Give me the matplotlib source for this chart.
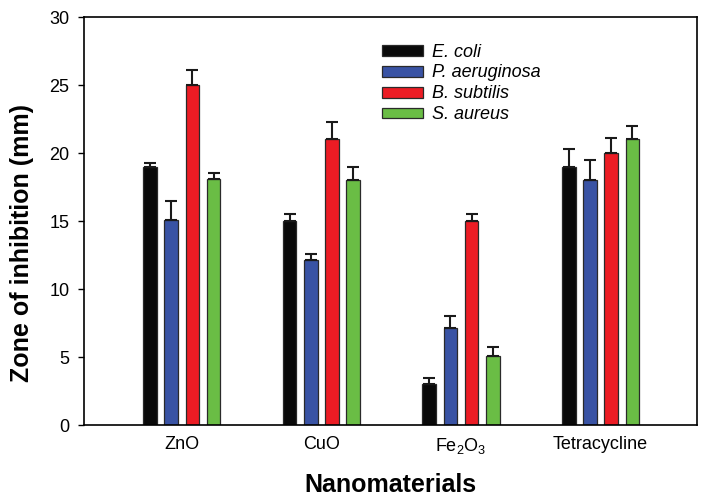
import numpy as np
import matplotlib
matplotlib.use("Agg")
import matplotlib.pyplot as plt

plt.rcParams['font.family'] = ['Liberation Sans', 'DejaVu Sans']
plt.rcParams['mathtext.fontset'] = 'custom'
plt.rcParams['mathtext.rm'] = 'Liberation Sans'
plt.rcParams['mathtext.it'] = 'Liberation Sans:italic'

materials = ['ZnO', 'CuO', 'Fe$_2$O$_3$', 'Tetracycline']
strains = ['E. coli', 'P. aeruginosa', 'B. subtilis', 'S. aureus']

# zone of inhibition (mm) per strain, one value per material
e_coli = [19.0, 15.0, 3.0, 19.0]
p_aeruginosa = [15.1, 12.1, 7.1, 18.0]
b_subtilis = [25.0, 21.0, 15.0, 20.0]
s_aureus = [18.1, 18.0, 5.1, 21.0]

# error bars (upper only)
e_coli_err = [0.3, 0.5, 0.45, 1.3]
p_aeruginosa_err = [1.4, 0.45, 0.9, 1.5]
b_subtilis_err = [1.1, 1.3, 0.5, 1.1]
s_aureus_err = [0.45, 1.0, 0.6, 1.0]

values = [e_coli, p_aeruginosa, b_subtilis, s_aureus]
errors = [e_coli_err, p_aeruginosa_err, b_subtilis_err, s_aureus_err]
colors = ['#0a0a0a', '#3953a4', '#ec1c24', '#6abd45']

fig = plt.figure(figsize=(7.08, 5.01), dpi=100)
ax = fig.add_axes([84 / 708, 76 / 501, 613 / 708, 408 / 501])

x = np.arange(len(materials))
step = 0.152
width = 0.097
for i, (vals, errs, col, name) in enumerate(zip(values, errors, colors, strains)):
    pos = x + (i - 1.5) * step
    ax.bar(pos, vals, width=width, color=col, edgecolor='#2a2a2a',
           linewidth=0.9, label=name, zorder=2)
    ax.errorbar(pos, vals, yerr=[np.zeros(len(errs)), errs], fmt='none',
                ecolor='#1a1a1a', elinewidth=1.5, capsize=4.5,
                capthick=1.5, zorder=3)

ax.set_xlim(-0.70, 3.69)
ax.set_ylim(0, 30)
ax.set_yticks(range(0, 31, 5))
ax.set_xticks(x)
ax.set_xticklabels(materials)
ax.tick_params(axis='x', length=0, labelsize=13, pad=8)
ax.tick_params(axis='y', direction='out', length=4.5, width=1, labelsize=13, pad=6)

for sp in ax.spines.values():
    sp.set_linewidth(1.2)

ax.set_ylabel('Zone of inhibition (mm)', fontsize=18, fontweight='bold')
ax.yaxis.set_label_coords(-0.082, 0.446)
ax.set_xlabel('Nanomaterials', fontsize=18, fontweight='bold', labelpad=12)

leg = ax.legend(loc='upper left', bbox_to_anchor=(0.486, 0.935), frameon=False,
                handlelength=2.3, handleheight=0.55, handletextpad=0.45,
                labelspacing=0.22, borderaxespad=0, borderpad=0,
                prop={'style': 'italic', 'size': 13})

fig.savefig('out.png', dpi=100)
